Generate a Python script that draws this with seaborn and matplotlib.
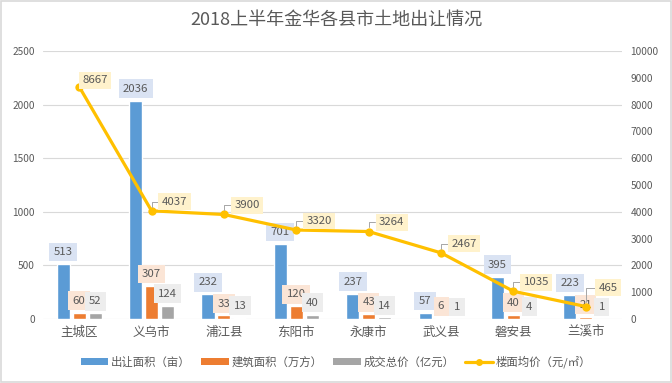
import numpy as np
import pandas as pd
import matplotlib
matplotlib.use('Agg')
import matplotlib.pyplot as plt
import seaborn as sns
from matplotlib.patches import Rectangle, Patch
from matplotlib.lines import Line2D

# ---- data ----
cities = ['主城区', '义乌市', '浦江县', '东阳市', '永康市', '武义县', '磐安县', '兰溪市']
area = [513, 2036, 232, 701, 237, 57, 395, 223]        # 出让面积（亩）
build = [60, 307, 33, 120, 43, 6, 40, 21]              # 建筑面积（万方）
total = [52, 124, 13, 40, 14, 1, 4, 1]                 # 成交总价（亿元）
price = [8667, 4037, 3900, 3320, 3264, 2467, 1035, 465]  # 楼面均价（元/㎡）
series_names = ['出让面积（亩）', '建筑面积（万方）', '成交总价（亿元）']
line_name = '楼面均价（元/㎡）'
title = '2018上半年金华各县市土地出让情况'
left_ticks = [0, 500, 1000, 1500, 2000, 2500]
right_ticks = list(range(0, 10001, 1000))

df = pd.DataFrame({
    '城市': cities * 3,
    '系列': np.repeat(series_names, len(cities)),
    '数值': area + build + total,
})

# ---- style ----
sns.set_style('white')
plt.rcParams['font.family'] = ['Noto Sans CJK SC', 'DejaVu Sans']
TXT = '#595959'
bar_colors = ['#5B9BD5', '#ED7D31', '#A5A5A5']
light_colors = ['#DAE3F3', '#FBE5D6', '#EDEDED']
line_color = '#FFC000'

fig = plt.figure(figsize=(6.72, 3.83), dpi=100)
ax = fig.add_axes([43 / 672, 1 - 319 / 383, (622 - 43) / 672, (319 - 51) / 383])

sns.barplot(data=df, x='城市', y='数值', hue='系列', palette=bar_colors,
            width=0.66, gap=0.18, ax=ax, legend=False, saturation=1)

for cont, light in zip(ax.containers, light_colors):
    ax.bar_label(cont, fmt='%g', padding=5, fontsize=8.2, color=TXT,
                 bbox=dict(boxstyle='square,pad=0.38', fc=light, ec='none'))

ax.set_ylim(0, 2500)
ax.set_yticks(left_ticks)
ax.set_xlim(-0.5, len(cities) - 0.5)
ax.yaxis.grid(True, color='#D9D9D9', lw=0.8)
ax.set_axisbelow(True)
for s in ax.spines.values():
    s.set_visible(False)
ax.tick_params(axis='both', length=0)
ax.tick_params(axis='y', labelsize=7.3, labelcolor=TXT, pad=6)
ax.tick_params(axis='x', labelsize=9, labelcolor=TXT, pad=5)
ax.set_xlabel('')
ax.set_ylabel('')

ax2 = ax.twinx()
sns.lineplot(x=cities, y=price, ax=ax2, color=line_color, lw=2.3,
             marker='o', markersize=6, markeredgewidth=0, sort=False)
ax2.set_ylim(0, 10000)
ax2.set_yticks(right_ticks)
for s in ax2.spines.values():
    s.set_visible(False)
ax2.tick_params(axis='y', length=0, labelsize=7.3, labelcolor=TXT, pad=6)
ax2.grid(False)
ax2.set_ylabel('')
ax.set_xlim(-0.5, len(cities) - 0.5)

# line value labels
special_offsets = {0: (11.5, 4.5), 7: (16, 13.5)}
for i, (c, p) in enumerate(zip(cities, price)):
    dx, dy = special_offsets.get(i, (16.5, 6.5))
    ap = None if i == 0 else dict(arrowstyle='-', color='#A6A6A6', lw=0.7,
                                  shrinkA=0, shrinkB=3,
                                  connectionstyle='angle,angleA=0,angleB=90')
    ax2.annotate(f'{p}', xy=(c, p), xytext=(dx, dy), textcoords='offset points',
                 ha='center', va='center', fontsize=8.2, color=TXT,
                 bbox=dict(boxstyle='square,pad=0.3', fc='#FFF2CC', ec='none'),
                 arrowprops=ap, zorder=5)

# title
fig.text(0.5, 1 - 20 / 383, title, ha='center', va='center', fontsize=13, color=TXT)

# legend
handles = [Patch(facecolor=c, edgecolor='none') for c in bar_colors]
handles.append(Line2D([], [], color=line_color, lw=2.3, marker='o', markersize=5,
                      markeredgewidth=0))
fig.legend(handles, series_names + [line_name], loc='center',
           bbox_to_anchor=(0.5, 1 - 362 / 383), ncol=4, frameon=False,
           fontsize=8.2, labelcolor=TXT, handlelength=2.4, handleheight=0.6,
           columnspacing=0.9, handletextpad=0.3)

# border
fig.add_artist(Rectangle((0.002, 0.003), 0.996, 0.994, transform=fig.transFigure,
                         fill=False, ec='#D9D9D9', lw=1.2))

fig.savefig('out.png', dpi=100)
